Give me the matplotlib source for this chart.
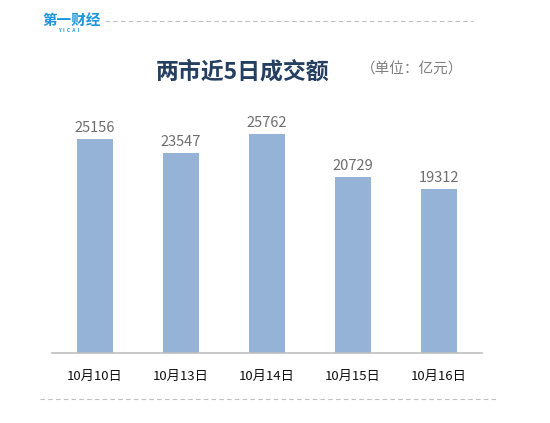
import matplotlib
matplotlib.use("Agg")
import matplotlib.pyplot as plt
from matplotlib.lines import Line2D

plt.rcParams['font.family'] = ['Noto Sans CJK SC', 'DejaVu Sans']

categories = ["10月10日", "10月13日", "10月14日", "10月15日", "10月16日"]
values = [25156, 23547, 25762, 20729, 19312]
title = "两市近5日成交额"
unit = "（单位：亿元）"

W, H = 550, 423
fig = plt.figure(figsize=(W / 100, H / 100), dpi=100)
ax = fig.add_axes([52 / W, 1 - 353 / H, 430 / W, 255 / H])

x = list(range(len(categories)))
bars = ax.bar(x, values, width=0.41, color="#95B3D7")
ax.set_xlim(-0.5, len(categories) - 0.5)
ax.set_ylim(0, 30000)
for xi, v in zip(x, values):
    ax.text(xi, v + 500, str(v), ha="center", va="bottom", fontsize=10.5, color="#6E6E6E")

ax.set_xticks(x)
ax.set_xticklabels(categories, fontsize=9.5, color="#111111")
ax.tick_params(axis="x", length=0, pad=12)
ax.set_yticks([])
for s in ["top", "right", "left"]:
    ax.spines[s].set_visible(False)
ax.spines["bottom"].set_color("#BFBFBF")
ax.spines["bottom"].set_linewidth(1.2)

fig.text(243 / W, 1 - 72 / H, title, ha="center", va="center", fontsize=16.5,
         fontweight="bold", color="#243F60")
fig.text(412 / W, 1 - 70 / H, unit, ha="center", va="center", fontsize=10.5, color="#7F7F7F")

# logo
fig.text(42 / W, 1 - 20 / H, "第一财经", ha="left", va="center", fontsize=10.5,
         fontweight="bold", color="#1E96DC")
fig.text(69 / W, 1 - 31 / H, "Y  I  C  A  I", ha="center", va="center", fontsize=3.5,
         fontweight="bold", color="#1E96DC")

fig.add_artist(Line2D([105 / W, 473 / W], [1 - 21 / H, 1 - 21 / H], transform=fig.transFigure,
                      color="#BFBFBF", lw=0.8, linestyle=(0, (4, 3))))
fig.add_artist(Line2D([40 / W, 498 / W], [1 - 399 / H, 1 - 399 / H], transform=fig.transFigure,
                      color="#BFBFBF", lw=0.8, linestyle=(0, (4, 3))))

fig.savefig("out.png", dpi=100, facecolor="white")
